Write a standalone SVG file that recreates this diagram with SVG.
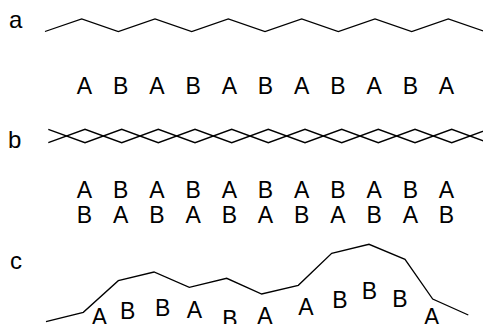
<svg xmlns="http://www.w3.org/2000/svg" width="483" height="324" viewBox="0 0 483 324">
<style>
.ln{fill:none;stroke:#000;stroke-width:1.3;stroke-linejoin:miter}
.lt{font-family:"Liberation Sans",Arial,sans-serif;font-size:23px;fill:#000;text-anchor:middle}
.lb{font-family:"Liberation Sans",Arial,sans-serif;font-size:24px;fill:#000}
</style>
<rect width="483" height="324" fill="#fff"/>
<g id="panel-a">
<text class="lb" x="9" y="28">a</text>
<g id="connectors-a"><polyline class="ln" points="45,31.5 81.7,19 118.3,31.5 155,19 191.7,31.5 228.3,19 265,31.5 301.7,19 338.3,31.5 375,19 411.7,31.5 448.3,19 485,31.5"/></g>
<g id="letters-a">
<text class="lt" x="84.5" y="94">A</text><text class="lt" x="120.7" y="94">B</text><text class="lt" x="156.9" y="94">A</text><text class="lt" x="193.1" y="94">B</text><text class="lt" x="229.3" y="94">A</text><text class="lt" x="265.5" y="94">B</text><text class="lt" x="301.7" y="94">A</text><text class="lt" x="337.9" y="94">B</text><text class="lt" x="374.1" y="94">A</text><text class="lt" x="410.3" y="94">B</text><text class="lt" x="446.5" y="94">A</text>
</g>
</g>
<g id="panel-b">
<text class="lb" x="8" y="148">b</text>
<g id="connectors-b">
<polyline class="ln" points="48.3,129.3 85,142.7 121.7,129.3 158.3,142.7 195,129.3 231.7,142.7 268.3,129.3 305,142.7 341.7,129.3 378.3,142.7 415,129.3 451.7,142.7 488.3,129.3"/>
<polyline class="ln" points="48.3,142.7 85,129.3 121.7,142.7 158.3,129.3 195,142.7 231.7,129.3 268.3,142.7 305,129.3 341.7,142.7 378.3,129.3 415,142.7 451.7,129.3 488.3,142.7"/>
</g>
<g id="letters-b1">
<text class="lt" x="84.5" y="198.3">A</text><text class="lt" x="120.7" y="198.3">B</text><text class="lt" x="156.9" y="198.3">A</text><text class="lt" x="193.1" y="198.3">B</text><text class="lt" x="229.3" y="198.3">A</text><text class="lt" x="265.5" y="198.3">B</text><text class="lt" x="301.7" y="198.3">A</text><text class="lt" x="337.9" y="198.3">B</text><text class="lt" x="374.1" y="198.3">A</text><text class="lt" x="410.3" y="198.3">B</text><text class="lt" x="446.5" y="198.3">A</text>
</g>
<g id="letters-b2">
<text class="lt" x="84.5" y="223.3">B</text><text class="lt" x="120.7" y="223.3">A</text><text class="lt" x="156.9" y="223.3">B</text><text class="lt" x="193.1" y="223.3">A</text><text class="lt" x="229.3" y="223.3">B</text><text class="lt" x="265.5" y="223.3">A</text><text class="lt" x="301.7" y="223.3">B</text><text class="lt" x="337.9" y="223.3">A</text><text class="lt" x="374.1" y="223.3">B</text><text class="lt" x="410.3" y="223.3">A</text><text class="lt" x="446.5" y="223.3">B</text>
</g>
</g>
<g id="panel-c">
<text class="lb" x="10" y="269">c</text>
<g id="connectors-c"><polyline class="ln" points="46,321.7 83.3,312.3 118.3,280.7 154,272 189.3,287.3 226.7,278.3 261.7,294 298.3,285.3 331.7,253.3 369,244.3 405,259.3 432.7,299 468.3,315"/></g>
<g id="letters-c">
<text class="lt" x="99.3" y="325">A</text><text class="lt" x="127.7" y="319">B</text><text class="lt" x="162.7" y="315.7">B</text><text class="lt" x="194.3" y="317.7">A</text><text class="lt" x="230" y="327">B</text><text class="lt" x="265" y="324.3">A</text><text class="lt" x="306" y="315">A</text><text class="lt" x="340" y="307.7">B</text><text class="lt" x="369.3" y="299">B</text><text class="lt" x="400" y="306.7">B</text><text class="lt" x="431.7" y="325">A</text>
</g>
</g>
</svg>
